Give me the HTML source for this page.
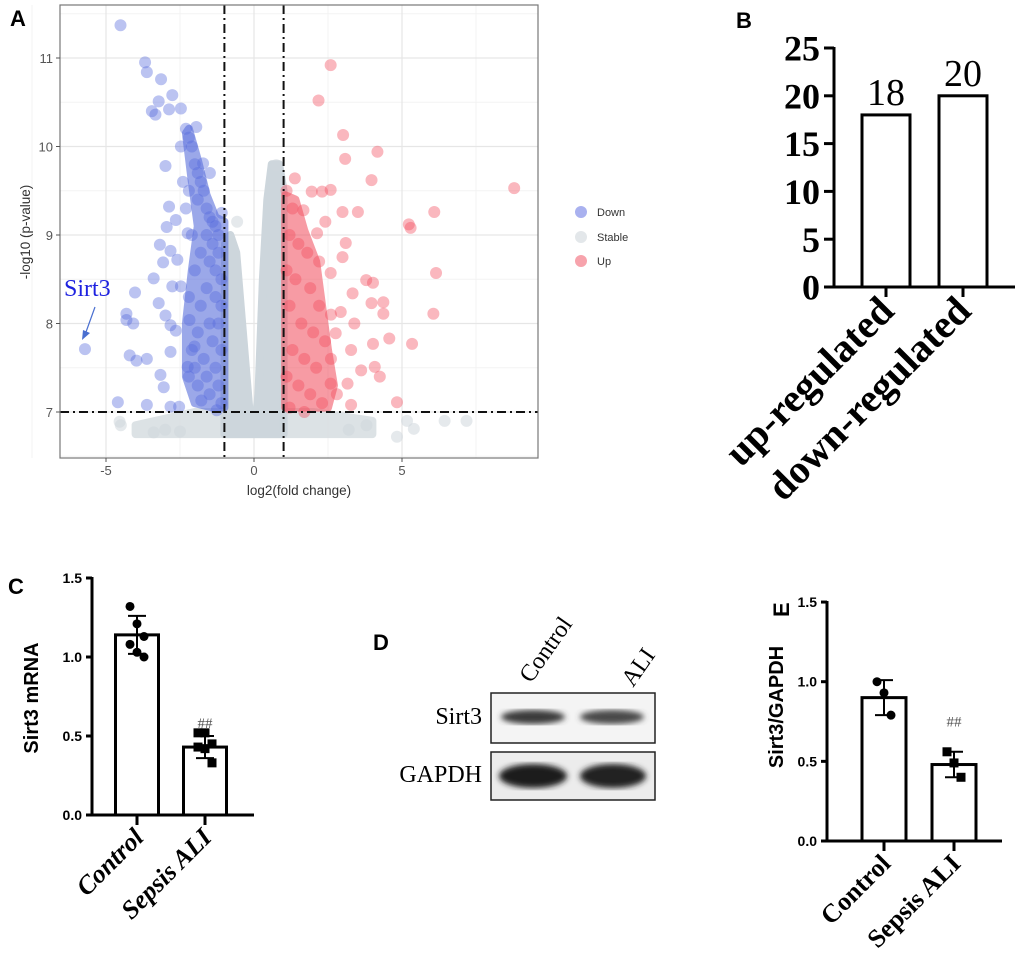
<!DOCTYPE html>
<html><head><meta charset="utf-8"><style>
html,body{margin:0;padding:0;background:#fff;}
svg{display:block;}
.sans{font-family:"Liberation Sans",sans-serif;}
.serif{font-family:"Liberation Serif",serif;}
</style></head><body>
<svg id="fig" width="1020" height="966" viewBox="0 0 1020 966" xmlns="http://www.w3.org/2000/svg">
<defs><clipPath id="clipA"><rect x="60" y="5" width="478" height="453"/></clipPath>
<filter id="blur2"><feGaussianBlur stdDeviation="3"/></filter></defs>
<g id="panelA"></g>
<g id="panelB"></g>
<g id="panelC"></g>
<g id="panelD"></g>
<g id="panelE"></g>
</svg>
<script>
// ---------- Panel A data ----------
const downPoints = [[-4.51,11.37],[-3.68,10.95],[-3.62,10.84],[-3.14,10.76],[-3.22,10.51],[-3.45,10.40],[-3.33,10.36],[-2.76,10.58],[-2.87,10.42],[-2.47,10.43],[-2.99,9.78],[-1.95,10.22],[-2.87,9.32],[-2.95,9.09],[-2.64,9.17],[-3.18,8.89],[-2.82,8.82],[-3.07,8.69],[-3.39,8.51],[-4.02,8.35],[-3.22,8.23],[-4.31,8.11],[-4.31,8.04],[-4.08,8.0],[-2.99,8.09],[-2.82,7.98],[-2.64,7.92],[-4.2,7.64],[-3.97,7.58],[-3.62,7.6],[-3.16,7.42],[-3.05,7.28],[-2.82,7.68],[-4.6,7.11],[-3.62,7.08],[-2.82,7.06],[-2.53,7.06],[-2.76,8.42],[-2.47,8.42],[-2.59,8.72],[-2.24,9.02],[-2.47,10.0],[-1.72,9.81],[-1.49,9.70],[-1.09,9.25],[-2.18,8.04],[-2.01,7.74],[-2.24,7.51],[-1.78,7.13],[-1.26,7.02],
[-2.3,10.2],[-2.2,10.1],[-2.1,10.0],[-2.0,9.8],[-1.9,9.7],[-1.8,9.6],[-1.7,9.5],[-1.6,9.3],[-1.5,9.2],[-1.4,9.15],[-1.3,9.1],[-1.2,9.0],[-1.6,9.0],[-1.4,8.9],[-1.2,8.8],[-1.5,8.7],[-1.3,8.6],[-1.1,8.5],[-1.6,8.4],[-1.3,8.3],[-1.1,8.2],[-1.8,8.2],[-1.5,8.0],[-1.2,8.0],[-1.9,7.9],[-1.4,7.8],[-1.1,7.7],[-1.7,7.6],[-2.0,7.5],[-1.3,7.5],[-1.6,7.4],[-1.2,7.3],[-1.9,7.3],[-1.5,7.2],[-1.1,7.1],[-2.2,7.4],[-2.1,7.7],[-2.2,8.3],[-2.0,8.6],[-1.8,8.8],[-2.1,9.0],[-2.3,9.3],[-1.9,9.4],[-2.4,9.6],[-2.2,9.5]];
const sirt3Point = [-5.71,7.71];
const upPoints = [[2.59,10.92],[2.18,10.52],[3.01,10.13],[3.08,9.86],[4.17,9.94],[3.97,9.62],[8.79,9.53],[6.09,9.26],[5.23,9.12],[5.29,9.08],[6.15,8.57],[6.06,8.11],[5.34,7.77],[4.57,7.83],[4.83,7.11],[3.79,8.49],[4.02,8.46],[3.97,8.23],[4.37,8.24],[4.37,8.11],[3.33,8.34],[3.39,8.0],[4.02,7.77],[4.08,7.51],[4.25,7.40],[3.62,7.47],[3.51,9.26],[2.99,9.26],[3.1,8.91],[2.99,8.75],[2.59,9.51],[2.30,9.49],[1.95,9.49],[1.38,9.64],[1.67,9.28],[2.41,9.15],[2.13,9.02],[2.59,8.57],[2.93,8.13],[2.76,7.89],[3.28,7.70],[3.16,7.32],[3.28,7.08],[2.59,7.32],
[1.1,9.5],[1.3,9.3],[1.2,9.0],[1.5,8.9],[1.8,8.8],[1.1,8.6],[1.4,8.5],[1.9,8.4],[2.2,8.2],[1.2,8.2],[1.6,8.0],[2.0,7.9],[2.4,7.8],[1.3,7.7],[1.7,7.6],[2.1,7.5],[2.6,7.6],[1.1,7.4],[1.5,7.3],[1.9,7.2],[2.3,7.1],[2.8,7.2],[1.2,7.05],[1.7,7.0],[2.2,8.7],[2.6,8.1]];
const stablePoints = [[-4.54,6.89],[6.44,6.9],[7.18,6.9],[4.83,6.72],[5.4,6.81],[5.17,6.9],[-3.39,6.77],[-0.57,9.15],[0.75,9.79],[-3.0,6.8],[-2.5,6.78],[3.2,6.8],[3.8,6.85],[-4.5,6.85]];
const downDense = [[-1.0,7.05],[-1.0,9.15],[-1.3,9.2],[-1.6,9.45],[-1.9,9.85],[-2.2,10.2],[-2.3,10.15],[-2.1,9.6],[-1.9,9.1],[-2.1,8.6],[-2.3,8.0],[-2.3,7.4],[-2.0,7.1],[-1.4,7.05]];
const upDense = [[1.05,7.05],[1.05,9.45],[1.4,9.4],[1.7,9.05],[2.1,8.7],[2.3,8.2],[2.5,7.7],[2.7,7.3],[2.5,7.05]];
const stableLeft = [[-1.0,6.75],[-0.98,8.9],[-0.8,9.0],[-0.6,8.8],[-0.4,8.0],[-0.15,7.0],[0,6.75]];
const stableRight = [[0,6.75],[0.15,7.2],[0.3,8.5],[0.45,9.4],[0.6,9.8],[0.85,9.8],[1.0,9.5],[1.0,6.75]];
const stableBand = [[-4.0,6.75],[-4.0,6.85],[-2.0,7.0],[2.0,7.0],[4.0,6.9],[4.0,6.75]];
const xTicksA = [-5,0,5];
const yTicksA = [7,8,9,10,11];
const thresholdsX = [-1,1];
const thresholdY = 7;
// ---------- Panel B data ----------
const bCategories = ["up-regulated","down-regulated"];
const bValues = [18,20];
const bTicks = [0,5,10,15,20,25];
// ---------- Panel C data ----------
const cCategories = ["Control","Sepsis ALI"];
const cMeans = [1.14,0.43];
const cSD = [0.12,0.07];
const cControlPts = [1.32,1.21,1.13,1.08,1.03,1.00];
const cSepsisPts = [0.52,0.52,0.45,0.43,0.42,0.33];
const cTicks = [0.0,0.5,1.0,1.5];
// ---------- Panel E data ----------
const eCategories = ["Control","Sepsis ALI"];
const eMeans = [0.90,0.48];
const eSD = [0.11,0.08];
const eControlPts = [1.00,0.93,0.79];
const eSepsisPts = [0.56,0.49,0.40];
const eTicks = [0.0,0.5,1.0,1.5];

const NS="http://www.w3.org/2000/svg";
function mk(tag, attrs, parent){const e=document.createElementNS(NS,tag);for(const k in attrs)e.setAttribute(k,attrs[k]);if(parent)parent.appendChild(e);return e;}
function txt(s, attrs, parent){const e=mk('text',attrs,parent);e.textContent=s;return e;}

// ===== Panel A =====
(function(){
const g=document.getElementById('panelA');
const sx=v=>254+v*29.6, sy=v=>412-(v-7)*88.5;
let e=mk('rect',{x:60,y:5,width:478,height:453,fill:'#fff'},g);


const grid=mk('g',{},g);


[-7.5,-2.5,2.5,7.5].forEach(v=>mk('line',{x1:sx(v),x2:sx(v),y1:5,y2:458,stroke:'#f3f3f3','stroke-width':1},grid));
[6.5,7.5,8.5,9.5,10.5,11.5].forEach(v=>mk('line',{x1:60,x2:538,y1:sy(v),y2:sy(v),stroke:'#f3f3f3','stroke-width':1},grid));
xTicksA.forEach(v=>mk('line',{x1:sx(v),x2:sx(v),y1:5,y2:458,stroke:'#e6e6e6','stroke-width':1.2},grid));
yTicksA.forEach(v=>mk('line',{x1:60,x2:538,y1:sy(v),y2:sy(v),stroke:'#e6e6e6','stroke-width':1.2},grid));
const cg=mk('g',{'clip-path':'url(#clipA)'},g);
function poly(arr,col,op,name){const p=mk('polygon',{points:arr.map(d=>sx(d[0])+','+sy(d[1])).join(' '),fill:col,stroke:col,'stroke-width':8,'stroke-linejoin':'round',opacity:op},cg);

}
poly(stableBand,'#d9dfe3',0.9,'stable-band');
poly(stableLeft,'#cdd6dc',1,'stable-left-lobe');
poly(stableRight,'#cdd6dc',1,'stable-right-lobe');
stablePoints.forEach(d=>{const c=mk('circle',{cx:sx(d[0]),cy:sy(d[1]),r:6,fill:'#cfd7dd','fill-opacity':0.55},cg);

});
poly(downDense,'#5a6fdc',0.6,'down-dense-region');
poly(upDense,'#f25a68',0.6,'up-dense-region');
downPoints.concat([sirt3Point]).forEach(d=>{const c=mk('circle',{cx:sx(d[0]),cy:sy(d[1]),r:6,fill:'#5469dc','fill-opacity':0.4},cg);

});
upPoints.forEach(d=>{const c=mk('circle',{cx:sx(d[0]),cy:sy(d[1]),r:6,fill:'#f24a5c','fill-opacity':0.4},cg);

});
thresholdsX.forEach(v=>{const l=mk('line',{x1:sx(v),x2:sx(v),y1:5,y2:458,stroke:'#111','stroke-width':2,'stroke-dasharray':'9,4,2,4'},g);

});
e=mk('line',{x1:60,x2:538,y1:sy(thresholdY),y2:sy(thresholdY),stroke:'#111','stroke-width':2,'stroke-dasharray':'9,4,2,4'},g);


e=mk('rect',{x:60,y:5,width:478,height:453,fill:'none',stroke:'#777','stroke-width':1.2},g);


xTicksA.forEach(v=>{mk('line',{x1:sx(v),x2:sx(v),y1:458,y2:462,stroke:'#555'},g);
const t=txt(String(v),{x:sx(v),y:475,'text-anchor':'middle','font-size':13,fill:'#555',class:'sans'},g);

});
yTicksA.forEach(v=>{mk('line',{x1:56,x2:60,y1:sy(v),y2:sy(v),stroke:'#555'},g);
const t=txt(String(v),{x:53,y:sy(v)+5,'text-anchor':'end','font-size':13,fill:'#555',class:'sans'},g);

});
e=txt('log2(fold change)',{x:299,y:495,'text-anchor':'middle','font-size':13.5,fill:'#333',class:'sans'},g);


e=txt('-log10 (p-value)',{x:0,y:0,'text-anchor':'middle','font-size':13.5,fill:'#333',class:'sans',transform:'translate(30,232) rotate(-90)'},g);


e=txt('A',{x:10,y:26,'font-size':22,'font-weight':'bold',class:'sans',fill:'#000'},g);


e=txt('Sirt3',{x:64,y:296,'font-size':24,fill:'#1e22e0',class:'serif'},g);


e=mk('line',{x1:95,y1:307,x2:86,y2:332,stroke:'#4a6fd0','stroke-width':1.2},g);


mk('polygon',{points:'82,340 83,330 90,333',fill:'#4a6fd0'},g);
const leg=[['Down','#a9b1ef',212],['Stable','#e3e7ea',237],['Up','#f7a3ac',261]];
leg.forEach(d=>{const lg=mk('g',{},g);


mk('circle',{cx:581,cy:d[2],r:6,fill:d[1]},lg);
txt(d[0],{x:597,y:d[2]+4,'font-size':11,fill:'#333',class:'sans'},lg);});
})();

// ===== Bar helper =====
function barChart(g,o){
const sy=v=>o.y0-v*o.k;
mk('line',{x1:o.ax,x2:o.ax,y1:sy(o.ticks[o.ticks.length-1])-1,y2:o.y0+1.5,stroke:'#000','stroke-width':o.lw},g);
mk('line',{x1:o.ax-(o.tickLen||6),x2:o.xEnd,y1:o.y0,y2:o.y0,stroke:'#000','stroke-width':o.lw},g);
o.ticks.forEach(v=>{mk('line',{x1:o.ax-(o.tickLen||6),x2:o.ax,y1:sy(v),y2:sy(v),stroke:'#000','stroke-width':o.lw},g);
const t=txt(o.fmt(v),{x:o.ax-(o.tickLen||6)-4,y:sy(v)+o.tickFs*0.35,'text-anchor':'end','font-size':o.tickFs,'font-weight':'bold',class:o.tickClass},g);

});
o.values.forEach((v,i)=>{const c=o.centers[i];
const b=mk('rect',{x:c-o.bw/2,y:sy(v),width:o.bw,height:o.y0-sy(v),fill:'#fff',stroke:'#000','stroke-width':o.lw},g);


mk('line',{x1:c,x2:c,y1:o.y0,y2:o.y0+10,stroke:'#000','stroke-width':o.lw},g);
const t=txt(o.cats[i],{x:0,y:0,'text-anchor':'end','font-size':o.catFs,'font-weight':'bold','font-style':o.catStyle||'normal',class:'serif',transform:'translate('+(c+o.catDx)+','+(o.y0+o.catDy)+') rotate(-45)'},g);

});
return sy;}

// ===== Panel B =====
(function(){
const g=document.getElementById('panelB');
const sy=barChart(g,{ax:834,y0:287,k:9.56,xEnd:1015,lw:3,ticks:bTicks,fmt:v=>String(v),tickFs:36,tickClass:'serif',tickLen:10,values:bValues,centers:[886,963],bw:48,cats:bCategories,catFs:40,catDx:10,catDy:26});
bValues.forEach((v,i)=>{const t=txt(String(v),{x:[886,963][i],y:sy(v)-10,'text-anchor':'middle','font-size':38,class:'serif'},g);

});
const e=txt('B',{x:736,y:28,'font-size':22,'font-weight':'bold',class:'sans'},g);


})();

// ===== Panel C =====
function dotsAndErr(g,sy,centers,means,sd,pts,shape){
centers.forEach((c,i)=>{mk('line',{x1:c,x2:c,y1:sy(means[i]-sd[i]),y2:sy(means[i]+sd[i]),stroke:'#000','stroke-width':2},g);
[means[i]-sd[i],means[i]+sd[i]].forEach(v=>mk('line',{x1:c-9,x2:c+9,y1:sy(v),y2:sy(v),stroke:'#000','stroke-width':2},g));});
pts.forEach((arr,i)=>arr.forEach((v,j)=>{const off=((j%3)-1)*7;let m;
if(shape[i]==='c')m=mk('circle',{cx:centers[i]+off,cy:sy(v),r:4.5,fill:'#000'},g);
else m=mk('rect',{x:centers[i]+off-4.5,y:sy(v)-4.5,width:9,height:9,fill:'#000'},g);

}));}
(function(){
const g=document.getElementById('panelC');
const sy=barChart(g,{ax:92,y0:815,k:158,xEnd:254,lw:3,ticks:cTicks,fmt:v=>v.toFixed(1),tickFs:14,tickClass:'sans',values:cMeans,centers:[137,205],bw:43,cats:cCategories,catFs:26,catStyle:'italic',catDx:8,catDy:24});
dotsAndErr(g,sy,[137,205],cMeans,cSD,[cControlPts,cSepsisPts],['c','s']);
let e=txt('##',{x:205,y:sy(0.55),'text-anchor':'middle','font-size':15,fill:'#555',class:'serif'},g);


e=txt('Sirt3 mRNA',{x:0,y:0,'text-anchor':'middle','font-size':20,'font-weight':'bold',class:'sans',transform:'translate(38,698) rotate(-90)'},g);


e=txt('C',{x:8,y:594,'font-size':22,'font-weight':'bold',class:'sans'},g);


})();

// ===== Panel D =====
(function(){
const g=document.getElementById('panelD');
let e=mk('rect',{x:491,y:693,width:164,height:50,fill:'#f4f4f4',stroke:'#222','stroke-width':1.5},g);


e=mk('rect',{x:491,y:752,width:164,height:48,fill:'#ececec',stroke:'#222','stroke-width':1.5},g);


[[533,717,32,7,'#3a3a3a'],[612,717,32,7,'#4a4a4a'],[533,776,34,12,'#1e1e1e'],[613,776,33,12,'#222']].forEach(d=>{const b=mk('ellipse',{cx:d[0],cy:d[1],rx:d[2],ry:d[3],fill:d[4],filter:'url(#blur2)'},g);

});
e=txt('Sirt3',{x:482,y:724,'text-anchor':'end','font-size':24,class:'serif'},g);


e=txt('GAPDH',{x:482,y:782,'text-anchor':'end','font-size':24,class:'serif'},g);


e=txt('Control',{x:0,y:0,'font-size':24,class:'serif',transform:'translate(531,684) rotate(-55)'},g);


e=txt('ALI',{x:0,y:0,'font-size':24,class:'serif',transform:'translate(633,688) rotate(-55)'},g);


e=txt('D',{x:373,y:650,'font-size':22,'font-weight':'bold',class:'sans'},g);


})();

// ===== Panel E =====
(function(){
const g=document.getElementById('panelE');
const sy=barChart(g,{ax:827,y0:841,k:159.3,xEnd:1002,lw:3,ticks:eTicks,fmt:v=>v.toFixed(1),tickFs:14,tickClass:'sans',values:eMeans,centers:[884,954],bw:44,cats:eCategories,catFs:26,catDx:8,catDy:24});
dotsAndErr(g,sy,[884,954],eMeans,eSD,[eControlPts,eSepsisPts],['c','s']);
let e=txt('##',{x:954,y:sy(0.72),'text-anchor':'middle','font-size':15,fill:'#555',class:'serif'},g);


e=txt('Sirt3/GAPDH',{x:0,y:0,'text-anchor':'middle','font-size':20,'font-weight':'bold',class:'sans',transform:'translate(783,707) rotate(-90)'},g);


e=txt('E',{x:0,y:0,'font-size':22,'font-weight':'bold',class:'sans',transform:'translate(789,617) rotate(-90)'},g);


})();
</script>
</body></html>
